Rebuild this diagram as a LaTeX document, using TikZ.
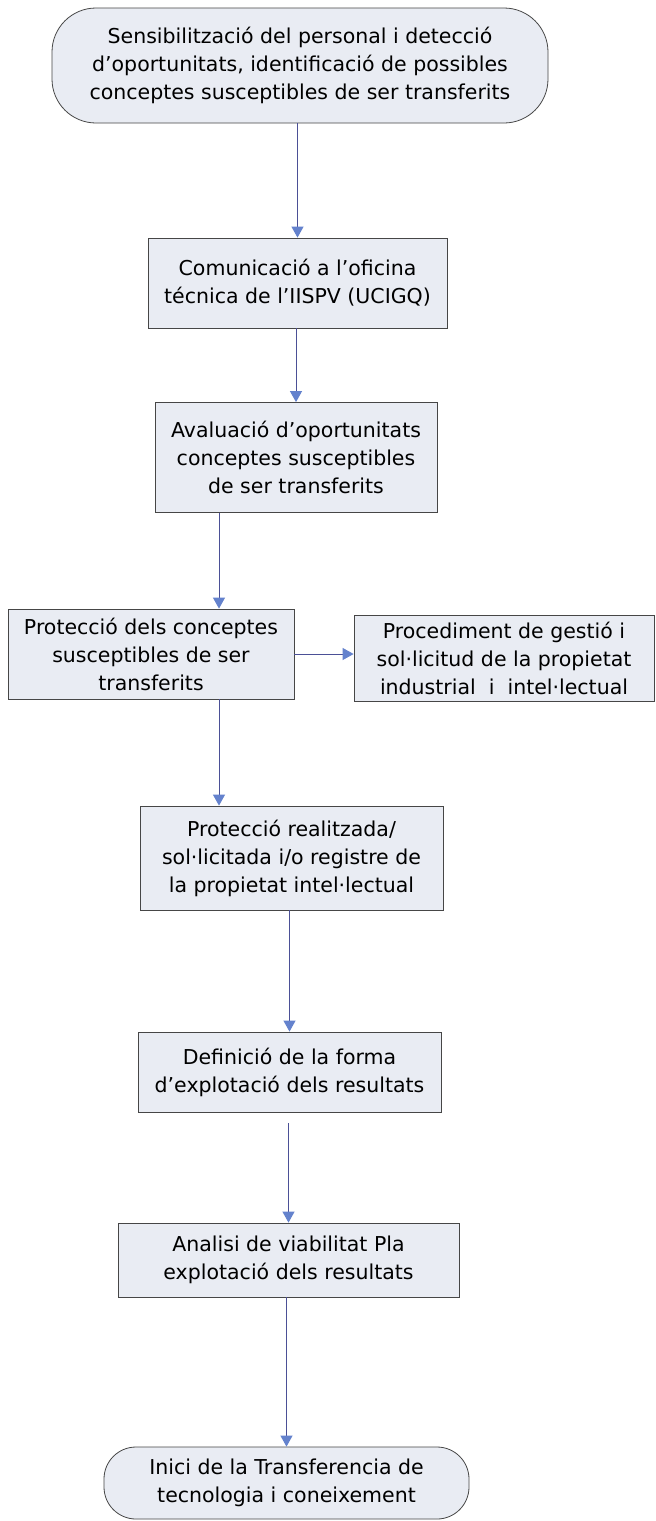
\documentclass[tikz,border=0pt]{standalone}
\usepackage{fontspec}
\setmainfont{DejaVu Sans}
\usetikzlibrary{arrows.meta,positioning}
\definecolor{boxfill}{RGB}{233,236,243}
\definecolor{boxline}{RGB}{70,70,70}
\definecolor{arrline}{RGB}{75,80,150}
\definecolor{arrhead}{RGB}{100,130,205}
\tikzset{box/.style={draw=boxline, fill=boxfill, line width=0.8pt, inner sep=0, align=center, font=\fontsize{20.5}{28}\selectfont},
  term/.style={box, rounded corners=#1}, term/.default=30pt,
  arr/.style={draw=arrline, line width=1pt, -{Triangle[width=12pt,length=11pt,color=arrhead]}}}

\begin{document}
\begin{tikzpicture}[x=1pt,y=-1pt]
    \fill[white] (0,0) rectangle (656,1521);
    \useasboundingbox (0,0) rectangle (656,1521);

    \node[term=44pt, minimum width=496pt, minimum height=115pt] (T1) at (300,65.5) {Sensibilització del personal i detecció\\d’oportunitats, identificació de possibles\\conceptes susceptibles de ser transferits};
    \node[box, minimum width=299pt, minimum height=90pt] (B2) at (297.5,283) {Comunicació a l’oficina\\técnica de l’IISPV (UCIGQ)};
    \node[box, minimum width=282pt, minimum height=110pt] (B3) at (296,457.5) {Avaluació d’oportunitats\\conceptes susceptibles\\de ser transferits};
    \node[box, minimum width=286pt, minimum height=90pt] (B4) at (151,654) {Protecció dels conceptes\\susceptibles de ser\\transferits};
    \node[box, minimum width=300pt, minimum height=86pt] (B5) at (504,658) {Procediment de gestió i\\sol·licitud de la propietat\\industrial\ \ i\ \ intel·lectual};
    \node[box, minimum width=303pt, minimum height=104pt] (B6) at (291.5,858) {Protecció realitzada/\\sol·licitada i/o registre de\\la propietat intel·lectual};
    \node[box, minimum width=303pt, minimum height=80pt] (B7) at (289.5,1072) {Definició de la forma\\d’explotació dels resultats};
    \node[box, minimum width=341pt, minimum height=74pt] (B8) at (288.5,1260) {Analisi de viabilitat Pla\\explotació dels resultats};
    \node[term=32pt, minimum width=365pt, minimum height=72pt] (T2) at (286.5,1483) {Inici de la Transferencia de\\tecnologia i coneixement};

    % side branch runs at this x
    \coordinate (c1) at (219,0);

    \foreach \a/\b in {T1/B2,B2/B3,B6/B7,B8/T2}
    {
      \draw[arr] (\a.south -| \b.north) -- (\b.north);
    }
    \draw[arr] (B3.south -| c1) -- (B4.north -| c1);
    \draw[arr] (B4.south -| c1) -- (B6.north -| c1);
    \draw[arr] (B4.east) -- (B5.west |- B4.east);
    \draw[arr, shorten <=11pt] (B7.south -| B8.north) -- (B8.north);
\end{tikzpicture}
\end{document}
